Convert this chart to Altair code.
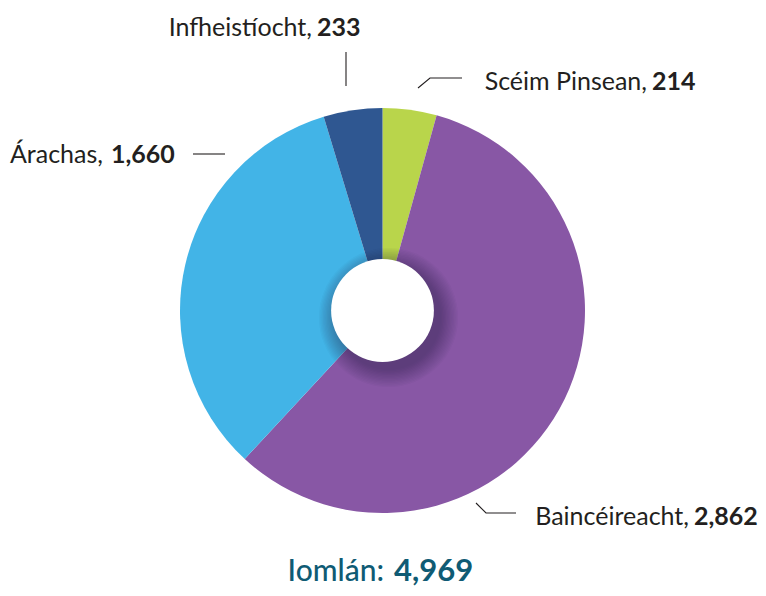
import altair as alt
import pandas as pd

# ---- data ----
categories = ["Scéim Pinsean", "Baincéireacht", "Árachas", "Infheistíocht"]
values = [214, 2862, 1660, 233]
colors = ["#b9d54b", "#8857a5", "#42b4e7", "#2f5791"]
total_label = "Iomlán:"
total_value = sum(values)

# ---- layout (chart pixel coords, page minus 8px margin) ----
OFF = 8
cx, cy = 382.5 - OFF, 310.5 - OFF
r_outer, r_inner = 202.5, 58
# label split point (end of "Name," and start of bold value) and baseline, page coords
label_pos = {
    "Scéim Pinsean": (647, 652, 90),
    "Baincéireacht": (689, 694, 525),
    "Árachas": (103, 111, 163),
    "Infheistíocht": (312, 317, 36),
}
leaders = {
    "Scéim Pinsean": [(418, 88), (430, 78), (462, 78)],
    "Baincéireacht": [(476, 503), (486, 513), (516, 513)],
    "Árachas": [(193, 154), (225, 154)],
    "Infheistíocht": [(346, 52), (346, 86)],
}

df = pd.DataFrame({"cat": categories, "value": values, "idx": list(range(len(categories)))})

pie = alt.Chart(df).mark_arc(outerRadius=r_outer, innerRadius=0, stroke=None).encode(
    theta=alt.Theta("value:Q", stack=True),
    order=alt.Order("idx:Q"),
    color=alt.Color("cat:N", scale=alt.Scale(domain=categories, range=colors), legend=None),
    x=alt.value(cx), y=alt.value(cy),
)

# shadow around hole (offset to bottom-right)
shadow_rows = []
for k in range(14):
    shadow_rows.append({"r": r_inner + 1.5 * k + 1, "o": 0.03})
sdf = pd.DataFrame(shadow_rows)
shadow = alt.Chart(sdf).mark_circle(color="#2a1a3a", stroke=None).encode(
    x=alt.value(cx + 6), y=alt.value(cy + 7),
    size=alt.Size("area:Q", scale=None),
    opacity=alt.Opacity("o:Q", scale=None),
).transform_calculate(area="PI * datum.r * datum.r")

hole = alt.Chart(pd.DataFrame({"a": [1]})).mark_circle(
    color="white", opacity=1, size=3.14159 * r_inner * r_inner
).encode(x=alt.value(cx), y=alt.value(cy))

# leader lines
lrows = []
for c, pts in leaders.items():
    for i, (px, py) in enumerate(pts):
        lrows.append({"cat": c, "i": i, "x": px - OFF, "y": py - OFF})
ldf = pd.DataFrame(lrows)
lines = alt.Chart(ldf).mark_line(color="#231f20", strokeWidth=1.1).encode(
    x=alt.X("x:Q", scale=None), y=alt.Y("y:Q", scale=None),
    detail="cat:N", order="i:Q",
)

trows = []
for c, v in zip(categories, values):
    a, b, base = label_pos[c]
    trows.append({"name": c + ",", "val": f"{v:,}", "xa": a - OFF, "xb": b - OFF, "y": base - OFF})
tdf = pd.DataFrame(trows)
names = alt.Chart(tdf).mark_text(
    font="Lato", fontSize=25, align="right", baseline="alphabetic", color="#231f20"
).encode(x=alt.X("xa:Q", scale=None), y=alt.Y("y:Q", scale=None), text="name:N")
vals = alt.Chart(tdf).mark_text(
    font="Lato", fontSize=25, fontWeight="bold", align="left", baseline="alphabetic", color="#231f20"
).encode(x=alt.X("xb:Q", scale=None), y=alt.Y("y:Q", scale=None), text="val:N")

tot_df = pd.DataFrame({"a": [total_label], "b": [f"{total_value:,}"]})
tot_a = alt.Chart(tot_df).mark_text(
    font="Lato", fontSize=30, fontWeight=500, align="right", baseline="alphabetic", color="#0f5b74"
).encode(x=alt.value(384 - OFF), y=alt.value(581 - OFF), text="a:N")
tot_b = alt.Chart(tot_df).mark_text(
    font="Lato", fontSize=31, fontWeight="bold", align="left", baseline="alphabetic", color="#0f5b74"
).encode(x=alt.value(394 - OFF), y=alt.value(581 - OFF), text="b:N")

chart = alt.layer(pie, shadow, hole, lines, names, vals, tot_a, tot_b).properties(
    width=750, height=580, padding=0, autosize="none"
).configure_view(stroke=None)

chart.save("out.html", embed_options={"renderer": "svg", "actions": False})
